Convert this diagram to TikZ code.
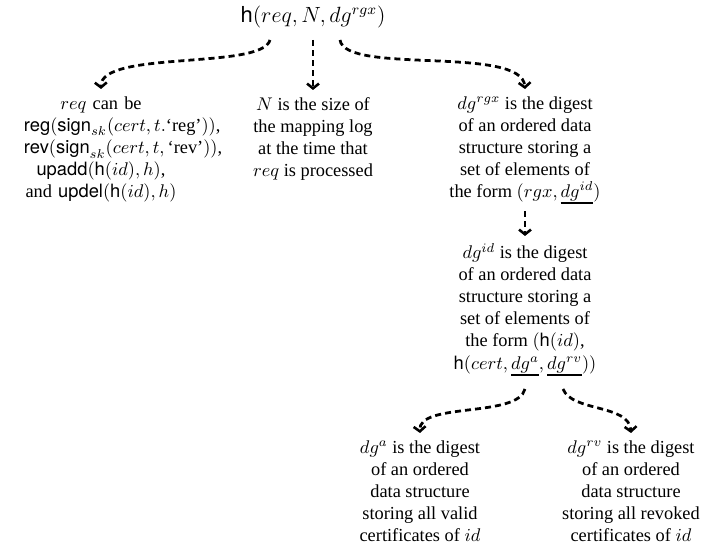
\documentclass[tikz,border=0pt]{standalone}
\usepackage{amsmath}
\usepackage{fontspec}
\setmainfont{Liberation Serif}
\setsansfont{TeX Gyre Heros}
\usetikzlibrary{arrows.meta}
\hbadness=10000
\hfuzz=100pt
\newcommand\fnc[1]{\textsf{#1}}
\newcommand\thul[1]{\mathord{\vtop{\hbox{$#1$}\kern0.9pt\hrule height 0.85pt}}}
\begin{document}
\begin{tikzpicture}[x=0.545pt,y=-0.545pt,
  txt/.style={align=center, inner sep=0pt, outer sep=4pt, anchor=north, font=\normalsize},
  conn/.style={line width=1.5pt, dash pattern=on 3.3pt off 2.2pt,
    -{Straight Barb[length=2.6pt,width=6.5pt,line width=1.4pt]}},
]
\useasboundingbox (0,0) rectangle (722,555);

\node[font=\large, inner sep=0pt] (top) at (313,17) {$\fnc{h}(req, N, dg^{rgx})$};

\node[txt, text width=84pt] (req) at (101,89) {$req$ can be\\
$\fnc{reg}(\fnc{sign}_{sk}(cert, t.\mbox{`reg'}))$,\\
$\fnc{rev}(\fnc{sign}_{sk}(cert, t, \mbox{`rev'}))$,\\
$\fnc{upadd}(\fnc{h}(id), h)$,\\
and $\fnc{updel}(\fnc{h}(id), h)$};

\node[txt] (n) at (313,90) {$N$ is the size of\\ the mapping log\\ at the time that\\ $req$ is processed};

\node[txt] (rgx) at (525,89) {$dg^{rgx}$ is the digest\\ of an ordered data\\ structure storing a\\ set of elements of\\ the form $(rgx, \thul{dg^{id}})$};

\node[txt] (id) at (525,236) {$dg^{id}$ is the digest\\ of an ordered data\\ structure storing a\\ set of elements of\\ the form $(\fnc{h}(id)$,\\ $\fnc{h}(cert, \thul{dg^{a}}, \thul{dg^{rv}}))$};

\node[txt] (a) at (420,433) {$dg^{a}$ is the digest\\ of an ordered\\ data structure\\ storing all valid\\ certificates of $id$};

\node[txt] (rv) at (631,433) {$dg^{rv}$ is the digest\\ of an ordered\\ data structure\\ storing all revoked\\ certificates of $id$};

\coordinate (s1) at (270,40);
\coordinate (s2) at (313,40);
\coordinate (s3) at (340,40);
\coordinate (s4) at (525,389);
\coordinate (s5) at (563,389);

\draw[conn] (s1) .. controls (262,70) and (100,50) .. (req.north);
\draw[conn] (s2) -- (n.north);
\draw[conn] (s3) .. controls (345,75) and (522,45) .. (rgx.north);
\draw[conn] (rgx.south) -- (id.north);
\draw[conn] (s4) .. controls (518,418) and (418,402) .. (a.north);
\draw[conn] (s5) .. controls (572,412) and (629,404) .. (rv.north);
\end{tikzpicture}
\end{document}
